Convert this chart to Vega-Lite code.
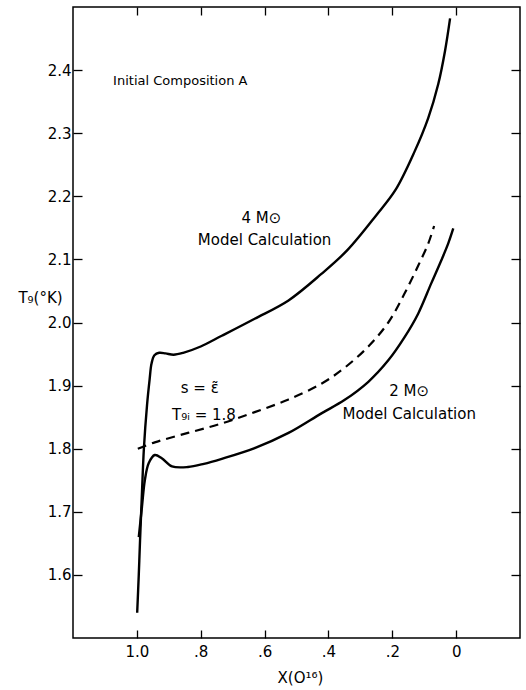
{
  "$schema": "https://vega.github.io/schema/vega-lite/v6.json",
  "width": 447,
  "height": 631,
  "autosize": {"type": "none"},
  "padding": {"left": 73, "top": 7, "right": 6, "bottom": 52},
  "background": "white",
  "config": {
    "view": {"stroke": "black", "strokeWidth": 1.5},
    "font": "DejaVu Sans",
    "axis": {"grid": false, "domain": false, "tickColor": "black", "tickWidth": 1.3, "labelColor": "black", "titleColor": "black", "labelFont": "DejaVu Sans", "titleFont": "DejaVu Sans", "titleFontWeight": "normal"}
  },
  "datasets": {
    "curves": [
      {"curve": "4M", "i": 1, "x": 0.999, "t": 1.54},
      {"curve": "4M", "i": 2, "x": 0.994, "t": 1.60},
      {"curve": "4M", "i": 3, "x": 0.99, "t": 1.655},
      {"curve": "4M", "i": 4, "x": 0.984, "t": 1.73},
      {"curve": "4M", "i": 5, "x": 0.978, "t": 1.80},
      {"curve": "4M", "i": 6, "x": 0.968, "t": 1.87},
      {"curve": "4M", "i": 7, "x": 0.96, "t": 1.91},
      {"curve": "4M", "i": 8, "x": 0.954, "t": 1.935},
      {"curve": "4M", "i": 9, "x": 0.945, "t": 1.948},
      {"curve": "4M", "i": 10, "x": 0.93, "t": 1.952},
      {"curve": "4M", "i": 11, "x": 0.91, "t": 1.951},
      {"curve": "4M", "i": 12, "x": 0.885, "t": 1.949},
      {"curve": "4M", "i": 13, "x": 0.855, "t": 1.952},
      {"curve": "4M", "i": 14, "x": 0.8, "t": 1.962},
      {"curve": "4M", "i": 15, "x": 0.734, "t": 1.979},
      {"curve": "4M", "i": 16, "x": 0.631, "t": 2.006},
      {"curve": "4M", "i": 17, "x": 0.525, "t": 2.035},
      {"curve": "4M", "i": 18, "x": 0.422, "t": 2.077},
      {"curve": "4M", "i": 19, "x": 0.34, "t": 2.115},
      {"curve": "4M", "i": 20, "x": 0.25, "t": 2.17},
      {"curve": "4M", "i": 21, "x": 0.19, "t": 2.21},
      {"curve": "4M", "i": 22, "x": 0.131, "t": 2.27},
      {"curve": "4M", "i": 23, "x": 0.0875, "t": 2.324},
      {"curve": "4M", "i": 24, "x": 0.056, "t": 2.378},
      {"curve": "4M", "i": 25, "x": 0.035, "t": 2.43},
      {"curve": "4M", "i": 26, "x": 0.019, "t": 2.482},
      {"curve": "2M", "i": 1, "x": 0.994, "t": 1.66},
      {"curve": "2M", "i": 2, "x": 0.984, "t": 1.708},
      {"curve": "2M", "i": 3, "x": 0.975, "t": 1.75},
      {"curve": "2M", "i": 4, "x": 0.963, "t": 1.777},
      {"curve": "2M", "i": 5, "x": 0.944, "t": 1.79},
      {"curve": "2M", "i": 6, "x": 0.922, "t": 1.785},
      {"curve": "2M", "i": 7, "x": 0.89, "t": 1.772},
      {"curve": "2M", "i": 8, "x": 0.84, "t": 1.771},
      {"curve": "2M", "i": 9, "x": 0.79, "t": 1.776},
      {"curve": "2M", "i": 10, "x": 0.734, "t": 1.784},
      {"curve": "2M", "i": 11, "x": 0.631, "t": 1.801},
      {"curve": "2M", "i": 12, "x": 0.525, "t": 1.825},
      {"curve": "2M", "i": 13, "x": 0.422, "t": 1.856},
      {"curve": "2M", "i": 14, "x": 0.35, "t": 1.877},
      {"curve": "2M", "i": 15, "x": 0.275, "t": 1.906},
      {"curve": "2M", "i": 16, "x": 0.2125, "t": 1.94},
      {"curve": "2M", "i": 17, "x": 0.1625, "t": 1.976},
      {"curve": "2M", "i": 18, "x": 0.119, "t": 2.014},
      {"curve": "2M", "i": 19, "x": 0.078, "t": 2.062},
      {"curve": "2M", "i": 20, "x": 0.047, "t": 2.098},
      {"curve": "2M", "i": 21, "x": 0.025, "t": 2.125},
      {"curve": "2M", "i": 22, "x": 0.009, "t": 2.149},
      {"curve": "dashed", "i": 1, "x": 0.997, "t": 1.80},
      {"curve": "dashed", "i": 2, "x": 0.944, "t": 1.81},
      {"curve": "dashed", "i": 3, "x": 0.84, "t": 1.825},
      {"curve": "dashed", "i": 4, "x": 0.734, "t": 1.84},
      {"curve": "dashed", "i": 5, "x": 0.631, "t": 1.858},
      {"curve": "dashed", "i": 6, "x": 0.525, "t": 1.878},
      {"curve": "dashed", "i": 7, "x": 0.422, "t": 1.903},
      {"curve": "dashed", "i": 8, "x": 0.35, "t": 1.928},
      {"curve": "dashed", "i": 9, "x": 0.275, "t": 1.962},
      {"curve": "dashed", "i": 10, "x": 0.2125, "t": 2.0},
      {"curve": "dashed", "i": 11, "x": 0.1625, "t": 2.045},
      {"curve": "dashed", "i": 12, "x": 0.119, "t": 2.09},
      {"curve": "dashed", "i": 13, "x": 0.0875, "t": 2.125},
      {"curve": "dashed", "i": 14, "x": 0.069, "t": 2.153}
    ],
    "notes": [
      {"label": "Initial Composition A", "x": 0.864, "t": 2.383},
      {"label": "4 M⊙", "x": 0.61, "t": 2.166},
      {"label": "Model Calculation", "x": 0.60, "t": 2.131},
      {"label": "2 M⊙", "x": 0.147, "t": 1.892},
      {"label": "Model Calculation", "x": 0.147, "t": 1.855},
      {"label": "s = ε̃", "x": 0.803, "t": 1.896},
      {"label": "T₉ᵢ = 1.8", "x": 0.79, "t": 1.853}
    ]
  },
  "resolve": {"axis": {"x": "independent", "y": "independent"}},
  "layer": [
    {
      "data": {"name": "curves"},
      "transform": [{"filter": "datum.curve != 'dashed'"}],
      "mark": {"type": "line", "color": "black", "strokeWidth": 2.4, "interpolate": "catmull-rom"},
      "encoding": {
        "x": {"field": "x", "type": "quantitative",
              "scale": {"domain": [-0.2, 1.2], "reverse": true, "nice": false, "zero": false},
              "axis": {"orient": "bottom", "offset": -8, "values": [0, 0.2, 0.4, 0.6, 0.8, 1.0], "tickSize": 8, "labelPadding": 6, "labelFontSize": 15,
                       "labelExpr": "datum.value == 1 ? '1.0' : (datum.value == 0 ? '0' : replace(format(datum.value, '.1f'), '0.', '.'))",
                       "title": "X(O¹⁶)", "titleFontSize": 15, "titleX": 227, "titleY": 47, "titleBaseline": "middle", "titleAlign": "center"}},
        "y": {"field": "t", "type": "quantitative",
              "scale": {"domain": [1.5, 2.5], "nice": false, "zero": false},
              "axis": {"orient": "left", "offset": -9, "values": [1.6, 1.7, 1.8, 1.9, 2.0, 2.1, 2.2, 2.3, 2.4], "tickSize": 9, "labelPadding": 2, "labelFontSize": 15, "format": ".1f",
                       "title": "T₉(°K)", "titleFontSize": 15, "titleAngle": 0, "titleX": -42, "titleY": 290, "titleAlign": "center", "titleBaseline": "middle"}},
        "detail": {"field": "curve"},
        "order": {"field": "i", "type": "quantitative"}
      }
    },
    {
      "data": {"name": "curves"},
      "transform": [{"filter": "datum.curve == 'dashed'"}],
      "mark": {"type": "line", "color": "black", "strokeWidth": 2.2, "strokeDash": [9, 6], "interpolate": "catmull-rom"},
      "encoding": {
        "x": {"field": "x", "type": "quantitative",
              "axis": {"orient": "top", "offset": -8, "values": [0, 0.2, 0.4, 0.6, 0.8, 1.0], "tickSize": 8, "labels": false, "title": null}},
        "y": {"field": "t", "type": "quantitative",
              "axis": {"orient": "right", "offset": -9, "values": [1.6, 1.7, 1.8, 1.9, 2.0, 2.1, 2.2, 2.3, 2.4], "tickSize": 9, "labels": false, "title": null}},
        "order": {"field": "i", "type": "quantitative"}
      }
    },
    {
      "data": {"name": "notes"},
      "transform": [{"filter": "datum.label != 'Initial Composition A'"}],
      "mark": {"type": "text", "color": "black", "fontSize": 15, "align": "center", "baseline": "middle"},
      "encoding": {
        "x": {"field": "x", "type": "quantitative", "axis": null},
        "y": {"field": "t", "type": "quantitative", "axis": null},
        "text": {"field": "label"}
      }
    },
    {
      "data": {"name": "notes"},
      "transform": [{"filter": "datum.label == 'Initial Composition A'"}],
      "mark": {"type": "text", "color": "black", "fontSize": 13, "align": "center", "baseline": "middle"},
      "encoding": {
        "x": {"field": "x", "type": "quantitative", "axis": null},
        "y": {"field": "t", "type": "quantitative", "axis": null},
        "text": {"field": "label"}
      }
    }
  ]
}
